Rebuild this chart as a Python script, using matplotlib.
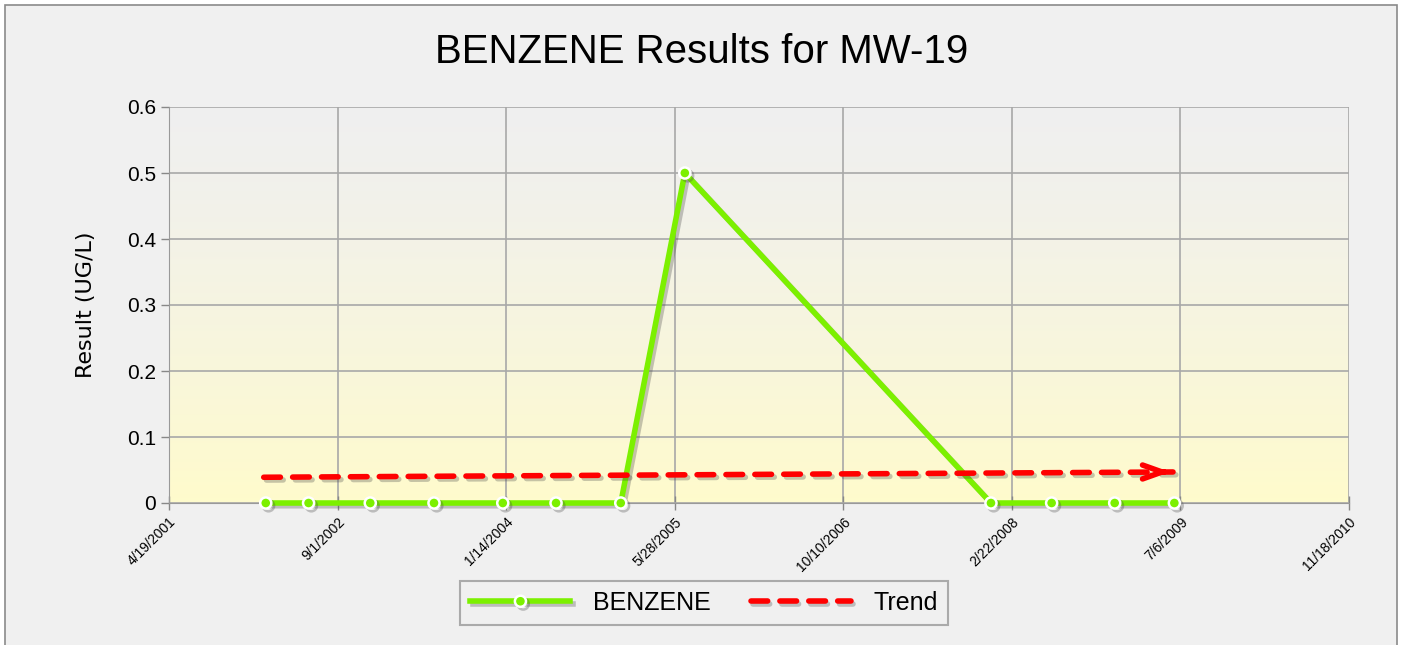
import datetime as dt
import numpy as np
import matplotlib.pyplot as plt
import matplotlib.dates as mdates
import matplotlib.patheffects as pe
from matplotlib.patches import Rectangle

# data
dates = ["2002-01-31", "2002-06-07", "2002-12-07", "2003-06-14", "2004-01-04",
         "2004-06-10", "2004-12-19", "2005-06-27", "2007-12-22", "2008-06-19",
         "2008-12-23", "2009-06-18"]
benzene = [0, 0, 0, 0, 0, 0, 0, 0.5, 0, 0, 0, 0]
trend_dates = ["2002-01-25", "2009-06-14"]
trend_vals = [0.039, 0.047]
tick_labels = ["4/19/2001", "9/1/2002", "1/14/2004", "5/28/2005",
               "10/10/2006", "2/22/2008", "7/6/2009", "11/18/2010"]

x = [dt.datetime.strptime(d, "%Y-%m-%d") for d in dates]
tx = [dt.datetime.strptime(d, "%Y-%m-%d") for d in trend_dates]
ticks = [dt.datetime.strptime(t, "%m/%d/%Y") for t in tick_labels]

fig = plt.figure(figsize=(14.03, 6.45), dpi=100)
fig.patch.set_facecolor("white")
# chart frame
fig.patches.append(Rectangle((5 / 1403, -0.01), 1392 / 1403, 1.01 - 5 / 645, transform=fig.transFigure,
                             facecolor="#f0f0f0", edgecolor="#8a8a8a", lw=1.2, zorder=-10))

ax = fig.add_axes([169 / 1403, 1 - 503 / 645, 1180 / 1403, 396 / 645])
ax.set_facecolor("none")

# gradient background of plot area
grad = np.linspace(0, 1, 256).reshape(-1, 1)
c_top = np.array([0.94, 0.94, 0.94])
c_bot = np.array([1.0, 0.985, 0.80])
img = c_top + (c_bot - c_top) * grad[:, :, None] ** 1.3
ax.imshow(img, extent=[mdates.date2num(ticks[0]), mdates.date2num(ticks[-1]), 0, 0.6],
          aspect="auto", origin="upper", zorder=0)

shadow = [pe.SimpleLineShadow(offset=(2, -2), shadow_color="#444444", alpha=0.3), pe.Normal()]

ax.plot(x, benzene, color="#7cf000", lw=4, marker="o", ms=8, mfc="#7cf000",
        mec="white", mew=1.8, zorder=4, label="BENZENE", path_effects=shadow, clip_on=False)
ax.plot(tx, trend_vals, color="#ff0000", lw=4, ls=(0, (3, 2.2)), zorder=5,
        dash_capstyle="round", label="Trend", path_effects=shadow)
ax.annotate("", xy=(tx[1], trend_vals[1]), xytext=(tx[1] - dt.timedelta(days=40), trend_vals[1]),
            arrowprops=dict(arrowstyle="->,head_length=1.4,head_width=0.5", color="#ff0000", lw=4),
            zorder=5)

ax.set_xlim(ticks[0], ticks[-1])
ax.set_ylim(0, 0.6)
ax.set_xticks(ticks)
ax.set_xticklabels(tick_labels, rotation=45, ha="right", rotation_mode="anchor", fontsize=10,
                   family=["Liberation Sans", "DejaVu Sans"])
ax.set_yticks(np.arange(0, 0.61, 0.1))
ax.set_yticklabels(["0", "0.1", "0.2", "0.3", "0.4", "0.5", "0.6"], fontsize=15,
                   family=["Liberation Sans", "DejaVu Sans"])
ax.tick_params(axis="both", color="#888888", length=6, width=1)
ax.tick_params(axis="x", direction="inout", length=10)
ax.grid(True, color="#a8a8a8", lw=1.2, zorder=1)
for s in ["top", "right"]:
    ax.spines[s].set_visible(False)
for s in ["left", "bottom"]:
    ax.spines[s].set_color("#999999")

ax.set_ylabel("Result (UG/L)", fontsize=16, family=["Liberation Sans Narrow", "DejaVu Sans"],
              labelpad=22)
fig.text(0.5, 1 - 52 / 645, "BENZENE Results for MW-19", ha="center", va="center",
         fontsize=29, family=["Liberation Sans", "DejaVu Sans"])

leg = fig.legend(loc="center", bbox_to_anchor=(704 / 1403, 1 - 603 / 645), ncol=2,
                 frameon=True, fancybox=False, handlelength=4.0, handletextpad=0.9,
                 columnspacing=1.6, borderpad=0.4, borderaxespad=0,
                 prop={"family": "Liberation Sans", "size": 18})
leg.get_frame().set_edgecolor("#999999")
leg.get_frame().set_facecolor("#f0f0f0")
leg.get_frame().set_linewidth(1.5)

fig.savefig("out.png", dpi=100)
